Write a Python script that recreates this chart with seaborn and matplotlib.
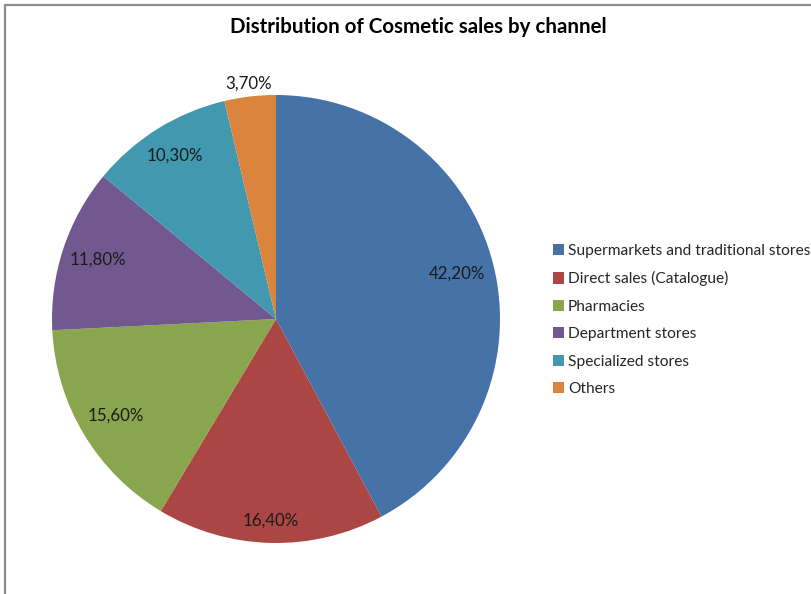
import matplotlib
matplotlib.use("Agg")
import matplotlib.pyplot as plt
from matplotlib.patches import Patch
import numpy as np
import seaborn as sns

channels = [
    "Supermarkets and traditional stores",
    "Direct sales (Catalogue)",
    "Pharmacies",
    "Department stores",
    "Specialized stores",
    "Others",
]
shares = [42.2, 16.4, 15.6, 11.8, 10.3, 3.7]
share_labels = ["42,20%", "16,40%", "15,60%", "11,80%", "10,30%", "3,70%"]
colors = ["#4572A7", "#AA4643", "#89A54E", "#71588F", "#4198AF", "#DB843D"]
# radial placement of each percentage label, as a fraction of the radius
label_radius = [0.835, 0.90, 0.835, 0.84, 0.857, 1.06]

sns.set_theme(style="white")
plt.rcParams["font.family"] = ["Lato", "DejaVu Sans"]

W, H = 812, 594
fig = plt.figure(figsize=(W / 100, H / 100), dpi=100)
fig.patch.set_facecolor("white")

# outer chart-area frame
frame = fig.add_axes([0, 0, 1, 1], zorder=-1)
frame.set_xlim(0, W)
frame.set_ylim(H, 0)
frame.axis("off")
frame.plot([5.5, 5.5, W], [H, 4.5, 4.5], color="#8c8c8c", lw=1.6)

cx, cy, r = 276, 319, 224
ax = fig.add_axes([(cx - r) / W, (H - cy - r) / H, 2 * r / W, 2 * r / H])
wedges, _ = ax.pie(
    shares,
    colors=colors,
    startangle=90,
    counterclock=False,
    radius=1,
    wedgeprops=dict(linewidth=0),
)
ax.set_xlim(-1, 1)
ax.set_ylim(-1, 1)
ax.set_aspect("equal")
ax.axis("off")

for w, lab, rd in zip(wedges, share_labels, label_radius):
    mid = np.deg2rad((w.theta1 + w.theta2) / 2)
    ax.text(rd * np.cos(mid), rd * np.sin(mid), lab, ha="center", va="center",
            fontsize=12.2, color="#1a1a1a")

fig.text(418 / W, 1 - 27 / H, "Distribution of Cosmetic sales by channel",
         ha="center", va="center", fontsize=14.8, fontweight="bold", color="black")

handles = [Patch(facecolor=c, edgecolor="none") for c in colors]
fig.legend(handles, channels, loc="upper left",
           bbox_to_anchor=(553 / W, 1 - 244 / H), frameon=False,
           fontsize=11.2, handlelength=0.72, handleheight=0.72, handletextpad=0.25,
           labelspacing=0.86, borderaxespad=0, borderpad=0)

fig.savefig("out.png", dpi=100, facecolor="white")
